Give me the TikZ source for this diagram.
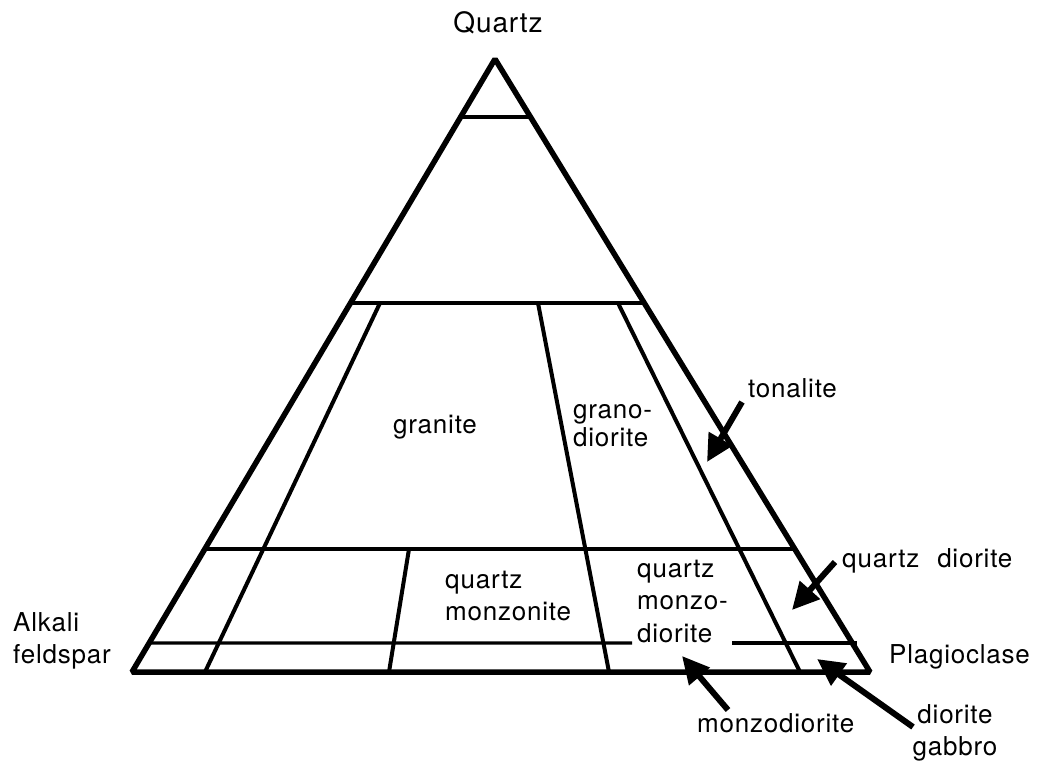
\documentclass[tikz,border=0pt]{standalone}
\usepackage{fontspec}
\setmainfont{TeX Gyre Heros}[LetterSpace=3]
\usetikzlibrary{arrows.meta,calc}
\begin{document}
\begin{tikzpicture}[x=1pt,y=-1pt,
  outer/.style={line width=5.5pt, line join=bevel},
  inner/.style={line width=4pt},
  hline/.style={line width=3.4pt},
  lbl/.style={font=\fontsize{26}{32}\selectfont, inner sep=0pt, align=left},
  ptr/.style={line width=6pt, -{Triangle[length=27pt,width=26pt]}}
]
\useasboundingbox (0,0) rectangle (1042,762);
% corners
\coordinate (Q) at (495,59);
\coordinate (A) at (132,672);
\coordinate (P) at (870,672);
% horizontal divisions on the sides
\coordinate (l1) at ($(Q)!0.0946!(A)$);
\coordinate (r1) at ($(Q)!0.0946!(P)$);
\coordinate (l2) at ($(Q)!0.398!(A)$);
\coordinate (r2) at ($(Q)!0.398!(P)$);
\coordinate (l3) at ($(Q)!0.7993!(A)$);
\coordinate (r3) at ($(Q)!0.7993!(P)$);
\coordinate (l4) at ($(Q)!0.9527!(A)$);
\coordinate (r4) at (857,643);
\coordinate (g1) at (632,643);
\coordinate (g2) at (732,643);
% slanted divisions
\coordinate (a1) at (380,303);  \coordinate (b1) at (205,672);
\coordinate (a2) at (538,303);  \coordinate (b2) at (609,672);
\coordinate (a3) at (618,303);  \coordinate (b3) at (800,672);
\coordinate (a4) at (409,549);  \coordinate (b4) at (389,672);

% inner lines
\draw[hline] (l1) -- (r1);
\draw[hline] (l2) -- (r2);
\draw[hline] (l3) -- (r3);
\draw[hline] (l4) -- (g1);
\draw[hline] (g2) -- (r4);
\draw[inner] (a1) -- (b1);
\draw[inner] (a2) -- (b2);
\draw[inner] (a3) -- (b3);
\draw[inner] (a4) -- (b4);
% triangle
\draw[outer] (Q) -- (A) -- (P) -- cycle;

% labels (anchor = baseline of the last line)
\node[lbl, font=\fontsize{28}{32}\selectfont, anchor=base] (quartz) at (498,33) {Quartz};
\node[lbl, anchor=base west] (alkali) at (13,663.3) {Alkali\\feldspar};
\node[lbl, anchor=base west] (plag) at (889,663) {Plagioclase};
\node[lbl, anchor=base west] (granite) at (393,433) {granite};
\node[lbl, anchor=base west, font=\fontsize{26}{27.5}\selectfont] (granodiorite) at (573,446) {grano-\\diorite};
\node[lbl, anchor=base west] (qmonzonite) at (445,620) {quartz\\monzonite};
\node[lbl, anchor=base west, font=\fontsize{26}{32.5}\selectfont] (qmonzodiorite) at (637,642) {quartz\\monzo-\\diorite};
\node[lbl, anchor=base west] (tonalite) at (748,397) {tonalite};
\node[lbl, anchor=base west] (qdiorite) at (842,567) {quartz\hspace{18pt}diorite};
\node[lbl, anchor=base west] (monzodiorite) at (697,732) {monzodiorite};
\node[lbl, anchor=base, align=center] (dioritegabbro) at (955,755) {diorite\\gabbro};

% pointers
\coordinate (tonT) at (742,402);   \coordinate (tonH) at (707,462);
\coordinate (qdT) at (835,562);    \coordinate (qdH) at (792,610);
\coordinate (mdT) at (728,710);    \coordinate (mdH) at (682,656);
\coordinate (dgT) at (913,727);    \coordinate (dgH) at (817,659);
\draw[ptr] (tonT) -- (tonH);
\draw[ptr] (qdT) -- (qdH);
\draw[ptr] (mdT) -- (mdH);
\draw[ptr] (dgT) -- (dgH);
\end{tikzpicture}
\end{document}
